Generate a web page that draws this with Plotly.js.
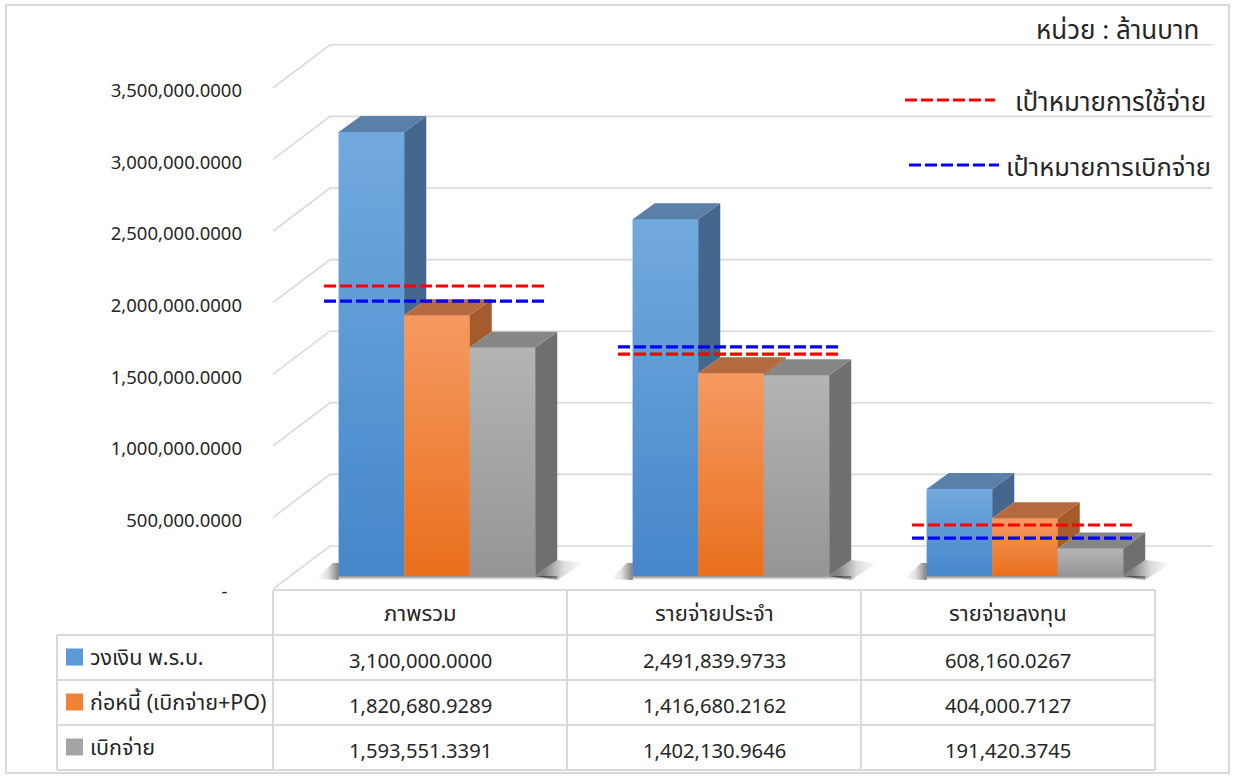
<!DOCTYPE html>
<html><head><meta charset="utf-8">
<script src="https://cdn.plot.ly/plotly-3.0.1.min.js"></script>
<style>html,body{margin:0;padding:0;background:#fff;} #chart{width:1235px;height:776px;}</style>
</head><body><div id="chart"></div>
<script>
// ---------------- data ----------------
const categories = ['ภาพรวม', 'รายจ่ายประจำ', 'รายจ่ายลงทุน'];
const seriesNames = ['วงเงิน พ.ร.บ.', 'ก่อหนี้ (เบิกจ่าย+PO)', 'เบิกจ่าย'];
const budget = [3100000.0000, 2491839.9733, 608160.0267];
const committed = [1820680.9289, 1416680.2162, 404000.7127];
const disbursed = [1593551.3391, 1402130.9646, 191420.3745];
const spendTarget = [2025000, 1550000, 356000];
const disburseTarget = [1920000, 1600000, 265000];
const targetNames = ['เป้าหมายการใช้จ่าย', 'เป้าหมายการเบิกจ่าย'];
const yTicks = [0, 500000, 1000000, 1500000, 2000000, 2500000, 3000000, 3500000];
const unitLabel = 'หน่วย : ล้านบาท';

// ---------------- styles / geometry ----------------
const series = [budget, committed, disbursed];
const frontColors = ['#5b9bd5', '#f08236', '#a5a5a5'];
const gradTop = ['#72a9de', '#f59a62', '#b4b4b4'];
const gradBottom = ['#4587ca', '#e96f1c', '#959595'];
const topColors = ['#5a7fa9', '#b5693e', '#868686'];
const sideColors = ['#45678d', '#a65b2d', '#6f6f6f'];
const NUM_FONT = "'Noto Sans', sans-serif";
const TXT_FONT = "'Noto Sans Thai', 'Noto Sans', sans-serif";
const TEXT_COLOR = '#262626';
const GRID = '#d9d9d9';

const W = 1235, H = 776;
const L = 273, R = 1213, T = 0, B = 600;     // plot area in px
const PXU = 294, X0 = 420;                    // px per category, px of category 0
const K = 143.2e-6;                           // px per value unit
const BASE = 576;                             // px of bar base
const dx = px => px / PXU;
const dy = px => px / K;
const X = px => (px - X0) / PXU;
const PX = px => (px - L) / (R - L);
const PY = py => (B - py) / (B - T);

const barW = dx(65.5), shift = dx(17), D3x = dx(22), D3y = dy(16);

function fmt(v) {
  const s = v.toFixed(4);
  const [i, d] = s.split('.');
  return i.replace(/\B(?=(\d{3})+(?!\d))/g, ',') + '.' + d;
}

const traces = [];
const offs = [0, 1, 2].map(s => shift + (s - 1.5) * barW);
const poly = (xs, ys, extra) => Object.assign({type: 'scatter', mode: 'lines', x: xs, y: ys, fill: 'toself',
  line: {width: 0}, hoverinfo: 'skip', showlegend: false}, extra);

// front faces as bars
series.forEach((vals, s) => {
  traces.push({
    type: 'bar', x: categories.map((c, i) => i), y: vals, name: seriesNames[s],
    width: barW, offset: offs[s], marker: {color: frontColors[s], line: {width: 0}},
    hoverinfo: 'skip', showlegend: false
  });
});

// soft floor shadows (outside the bar faces)
categories.forEach((c, g) => {
  const xl = g + offs[0], xg = g + offs[2] + barW;
  traces.push(poly([xl - dx(22), xl, xl, xl - dx(6), xl - dx(22)], [dy(-3), dy(-4), dy(13), dy(13), dy(-3)],
    {fillgradient: {type: 'horizontal', start: xl - dx(22), stop: xl,
      colorscale: [[0, 'rgba(0,0,0,0)'], [0.5, 'rgba(0,0,0,0.12)'], [1, 'rgba(0,0,0,0.5)']]}}));
  traces.push(poly([xl, xg + D3x, xg + D3x, xl, xl], [dy(-4), dy(-4), 0, 0, dy(-4)],
    {fillgradient: {type: 'vertical', start: dy(-4), stop: 0,
      colorscale: [[0, 'rgba(0,0,0,0)'], [1, 'rgba(0,0,0,0.45)']]}}));
  traces.push(poly([xg, xg + D3x, xg + D3x + dx(26), xg + dx(22), xg],
    [0, D3y, D3y - dy(3), dy(-4), 0],
    {fillgradient: {type: 'horizontal', start: xg + dx(8), stop: xg + D3x + dx(26),
      colorscale: [[0, 'rgba(0,0,0,0.5)'], [0.5, 'rgba(0,0,0,0.14)'], [1, 'rgba(0,0,0,0)']]}}));
});

// gradient shading of front faces, top and side faces
series.forEach((vals, s) => {
  const top = {x: [], y: []}, side = {x: [], y: []};
  vals.forEach((v, g) => {
    const xl = g + offs[s], xr = xl + barW;
    const nb = s < 2 ? Math.min(series[s + 1][g], v) : 0;
    traces.push(poly([xl, xr, xr, xl, xl], [0, 0, v, v, 0],
      {fillgradient: {type: 'vertical', start: 0, stop: v,
        colorscale: [[0, gradBottom[s]], [1, gradTop[s]]]}}));
    top.x.push(xl, xr, xr + D3x, xl + D3x, xl, null);
    top.y.push(v, v, v + D3y, v + D3y, v, null);
    side.x.push(xr, xr, xr + D3x, xr + D3x, xr, null);
    side.y.push(nb, v, v + D3y, nb + D3y, nb, null);
  });
  traces.push(poly(side.x, side.y, {fillcolor: sideColors[s]}));
  traces.push(poly(top.x, top.y, {fillcolor: topColors[s]}));
});

// target dashed lines
[[spendTarget, '#ff0000'], [disburseTarget, '#0000ff']].forEach(([vals, col], k) => {
  const xs = [], ys = [];
  vals.forEach((v, g) => { xs.push(g + dx(-96), g + dx(124), null); ys.push(v, v, null); });
  traces.push({type: 'scatter', mode: 'lines', x: xs, y: ys, name: targetNames[k],
    line: {color: col, width: 3.2, dash: '12px,4px'}, hoverinfo: 'skip', showlegend: false});
});

// ---------------- shapes ----------------
const shapes = [];
shapes.push({type: 'rect', xref: 'paper', yref: 'paper', x0: PX(6), x1: PX(1229), y0: PY(5), y1: PY(773),
  line: {color: GRID, width: 2}, layer: 'below'});
yTicks.forEach(v => {
  const yf = v - dy(13), yb = v + dy(30);
  shapes.push({type: 'path', xref: 'x', yref: 'y', layer: 'below',
    path: `M${X(L)},${yf} L${X(330)},${yb} L${X(1212)},${yb}`,
    line: {color: GRID, width: 1.6}});
});
const colEdges = [273, 567, 861, 1155];
const rowEdges = [590, 635, 680, 725, 770];
const tl = (x0, y0, x1, y1) => shapes.push({type: 'line', xref: 'paper', yref: 'paper',
  x0: PX(x0), y0: PY(y0), x1: PX(x1), y1: PY(y1), line: {color: GRID, width: 2}});
tl(273, 590, 1155, 590);
rowEdges.slice(1).forEach(y => tl(57, y, 1155, y));
tl(57, 635, 57, 770);
colEdges.forEach(x => tl(x, 590, x, 770));
const rowCenters = [657.5, 702.5, 747.5];
rowCenters.forEach((c, s) => {
  shapes.push({type: 'rect', xref: 'paper', yref: 'paper', x0: PX(66), x1: PX(83), y0: PY(c - 9), y1: PY(c + 8),
    fillcolor: frontColors[s], line: {width: 0}});
});
shapes.push({type: 'line', xref: 'paper', yref: 'paper', x0: PX(905), x1: PX(995), y0: PY(100), y1: PY(100),
  line: {color: '#ff0000', width: 3.2, dash: '12px,4px'}});
shapes.push({type: 'line', xref: 'paper', yref: 'paper', x0: PX(909), x1: PX(999), y0: PY(165), y1: PY(165),
  line: {color: '#0000ff', width: 3.2, dash: '12px,4px'}});

// ---------------- annotations ----------------
const ann = [];
const A = (text, x, y, anchor, size, font) => ann.push({text, xref: 'paper', yref: 'paper', x: PX(x), y: PY(y),
  xanchor: anchor, yanchor: 'middle', showarrow: false, font: {family: font, size, color: TEXT_COLOR}});
categories.forEach((c, g) => A(c, X0 + g * PXU, 614, 'center', 22, TXT_FONT));
seriesNames.forEach((n, s) => A(n, 88, rowCenters[s] + 1, 'left', 21.5, TXT_FONT));
series.forEach((vals, s) => vals.forEach((v, g) => A(fmt(v), X0 + g * PXU, rowCenters[s] + 2, 'center', 20.2, NUM_FONT)));
A(unitLabel, 1201, 31, 'right', 26, TXT_FONT);
A(targetNames[0], 1013, 103, 'left', 26, TXT_FONT);
A(targetNames[1], 1004, 168, 'left', 25.6, TXT_FONT);

const layout = {
  width: W, height: H, margin: {l: L, r: W - R, t: T, b: H - B}, paper_bgcolor: '#fff', plot_bgcolor: 'rgba(0,0,0,0)',
  barmode: 'overlay', showlegend: false,
  xaxis: {range: [X(L), X(R)], visible: false, fixedrange: true},
  yaxis: {range: [(BASE - B) / K, (BASE - T) / K], showgrid: false, zeroline: false, showline: false,
    tickmode: 'array', tickvals: yTicks.map(v => v - dy(16)),
    ticktext: yTicks.map(v => v === 0 ? '-\u00a0\u00a0\u00a0' : fmt(v)),
    ticks: '', ticklabelstandoff: 30, tickfont: {family: NUM_FONT, size: 18.5, color: TEXT_COLOR}, fixedrange: true},
  shapes, annotations: ann
};
Plotly.newPlot('chart', traces, layout, {displayModeBar: false, staticPlot: true});
</script></body></html>
